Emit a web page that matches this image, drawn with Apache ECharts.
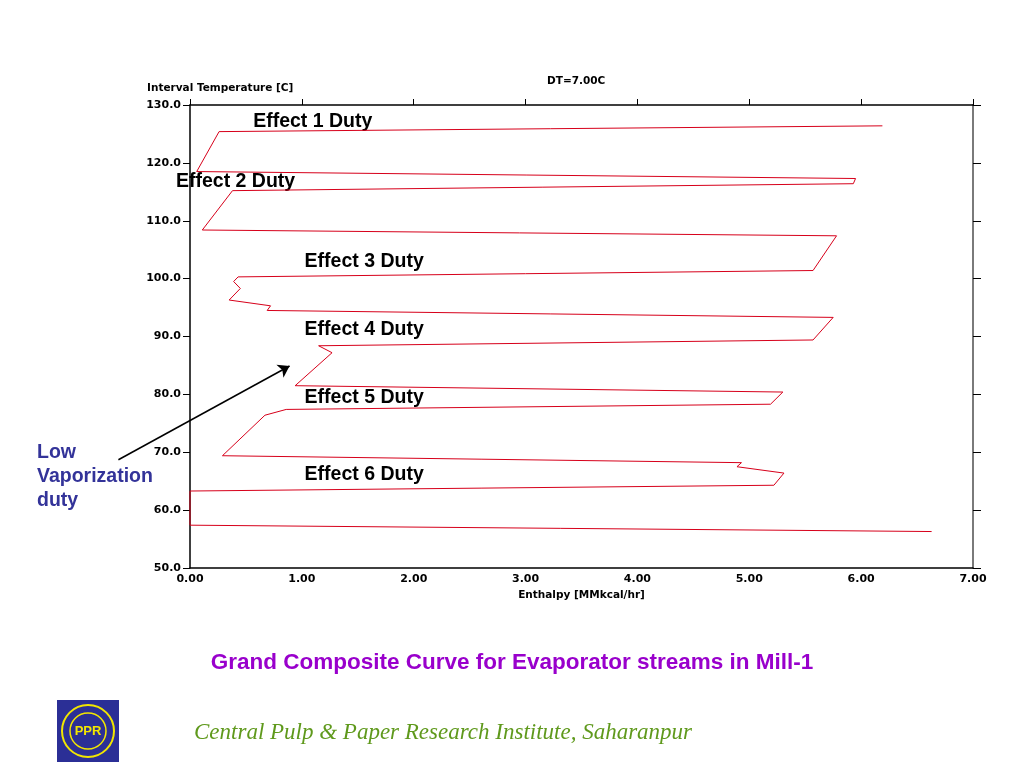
<!DOCTYPE html>
<html>
<head>
<meta charset="utf-8">
<title>Grand Composite Curve</title>
<script src="https://cdn.jsdelivr.net/npm/echarts@6/dist/echarts.min.js"></script>
<style>
	html, body { margin: 0; padding: 0; background: #fff; }
	#chart { width: 1024px; height: 768px; }
</style>
</head>
<body>
<div id="chart"></div>
<script>
// grand composite curve, points in drawing order (enthalpy MMkcal/hr, interval temperature C)
var enthalpy = [6.19, 0.26, 0.06, 5.95, 5.93, 0.38, 0.11, 5.78, 5.57, 0.43, 0.39, 0.45, 0.35, 0.72, 0.69, 5.75,
	5.57, 1.15, 1.27, 0.94, 5.30, 5.19, 0.86, 0.67, 0.29, 4.93, 4.89, 5.31, 5.22, 0.00, 0.00, 6.63];
var temperature = [126.4, 125.4, 118.5, 117.3, 116.4, 115.2, 108.4, 107.4, 101.4, 100.3, 99.5, 98.3, 96.3, 95.3, 94.5, 93.3,
	89.4, 88.4, 87.2, 81.5, 80.4, 78.3, 77.4, 76.4, 69.4, 68.2, 67.5, 66.4, 64.3, 63.3, 57.4, 56.3];

// effect duty labels
var dutyLabels = ['Effect 1 Duty', 'Effect 2 Duty', 'Effect 3 Duty', 'Effect 4 Duty', 'Effect 5 Duty', 'Effect 6 Duty'];
var dutyX = [0.56, -0.13, 1.02, 1.02, 1.02, 1.02];
var dutyY = [127.1, 116.8, 102.9, 91.2, 79.4, 66.1];

// arrow for low vaporization duty
var arrowFrom = [-0.64, 68.7];
var arrowTo = [0.89, 84.9];

function init() {
	renderChart();
}

function renderChart() {
	var curve = [];
	for(var i = 0; i < enthalpy.length; i++) {
		curve.push([enthalpy[i], temperature[i]]);
	}
	var duty = [];
	for(var j = 0; j < dutyLabels.length; j++) {
		duty.push({
			value: [dutyX[j], dutyY[j]],
			name: dutyLabels[j]
		});
	}
	var tickFont = {
		fontFamily: 'DejaVu Sans',
		fontWeight: 'bold',
		fontSize: 11,
		color: '#000'
	};
	var option = {
		animation: false,
		backgroundColor: '#fff',
		title: [{
			text: 'Grand Composite Curve for Evaporator streams in Mill-1',
			left: 'center',
			top: 646,
			textStyle: {
				fontFamily: 'Liberation Sans',
				fontWeight: 'bold',
				fontSize: 22.5,
				color: '#9900cc'
			}
		}, {
			text: 'DT=7.00C',
			left: 542,
			top: 71,
			textStyle: {
				fontFamily: 'DejaVu Sans',
				fontWeight: 'bold',
				fontSize: 10.5,
				color: '#000'
			}
		}],
		grid: {
			left: 190,
			right: 51,
			top: 105,
			bottom: 200
		},
		xAxis: [{
			type: 'value',
			min: 0,
			max: 7,
			interval: 1,
			position: 'bottom',
			name: 'Enthalpy [MMkcal/hr]',
			nameLocation: 'middle',
			nameGap: 18,
			nameTextStyle: {
				fontFamily: 'DejaVu Sans',
				fontWeight: 'bold',
				fontSize: 10.5,
				color: '#000'
			},
			axisLine: {
				show: true,
				onZero: false,
				lineStyle: { color: '#000', width: 1.5 }
			},
			axisTick: { show: false },
			axisLabel: {
				margin: 6,
				fontFamily: tickFont.fontFamily,
				fontWeight: tickFont.fontWeight,
				fontSize: tickFont.fontSize,
				color: tickFont.color,
				formatter: function(v) {
					return v.toFixed(2);
				}
			},
			splitLine: { show: false }
		}, {
			type: 'value',
			min: 0,
			max: 7,
			interval: 1,
			position: 'top',
			axisLine: {
				show: true,
				onZero: false,
				lineStyle: { color: '#000', width: 1.5 }
			},
			axisTick: {
				show: true,
				length: 6,
				lineStyle: { color: '#000' }
			},
			axisLabel: { show: false },
			splitLine: { show: false }
		}],
		yAxis: [{
			type: 'value',
			min: 50,
			max: 130,
			interval: 10,
			position: 'left',
			axisLine: {
				show: true,
				onZero: false,
				lineStyle: { color: '#000', width: 1.5 }
			},
			axisTick: {
				show: true,
				length: 7,
				lineStyle: { color: '#000' }
			},
			axisLabel: {
				margin: 9,
				fontFamily: tickFont.fontFamily,
				fontWeight: tickFont.fontWeight,
				fontSize: tickFont.fontSize,
				color: tickFont.color,
				formatter: function(v) {
					return v.toFixed(1);
				}
			},
			splitLine: { show: false }
		}, {
			type: 'value',
			min: 50,
			max: 130,
			interval: 10,
			position: 'right',
			axisLine: {
				show: true,
				onZero: false,
				lineStyle: { color: '#7a7a7a', width: 2 }
			},
			axisTick: {
				show: true,
				length: 8,
				lineStyle: { color: '#000' }
			},
			axisLabel: { show: false },
			splitLine: { show: false }
		}],
		series: [{
			name: 'GCC',
			type: 'line',
			data: curve,
			symbol: 'none',
			lineStyle: {
				color: '#d7001a',
				width: 1
			}
		}, {
			name: 'duty',
			type: 'scatter',
			data: duty,
			clip: false,
			symbolSize: 1,
			itemStyle: {
				color: 'rgba(0,0,0,0)',
				opacity: 1
			},
			label: {
				show: true,
				position: 'right',
				distance: 0,
				formatter: '{b}',
				fontFamily: 'Liberation Sans',
				fontWeight: 'bold',
				fontSize: 19.5,
				color: '#000',
				textBorderWidth: 0
			}
		}, {
			name: 'arrow',
			type: 'lines',
			coordinateSystem: 'cartesian2d',
			clip: false,
			symbol: ['none', 'arrow'],
			symbolSize: 11,
			lineStyle: {
				color: '#000',
				width: 1.5,
				opacity: 1
			},
			data: [{ coords: [arrowFrom, arrowTo] }]
		}],
		graphic: [{
			type: 'text',
			left: 147,
			top: 83,
			style: {
				text: 'Interval Temperature [C]',
				font: 'bold 10.5px "DejaVu Sans"',
				fill: '#000'
			}
		}, {
			type: 'text',
			left: 37,
			top: 441,
			style: {
				text: 'Low\nVaporization\nduty',
				font: 'bold 19.5px "Liberation Sans"',
				lineHeight: 24,
				fill: '#333399'
			}
		}, {
			type: 'text',
			left: 194,
			top: 721,
			style: {
				text: 'Central Pulp & Paper Research Institute, Saharanpur',
				font: 'italic 23px "Liberation Serif"',
				fill: '#5f991c'
			}
		}, {
			type: 'group',
			left: 57,
			top: 700,
			children: [{
				type: 'rect',
				shape: { x: 0, y: 0, width: 62, height: 62 },
				style: { fill: '#2b2f96' }
			}, {
				type: 'circle',
				shape: { cx: 31, cy: 31, r: 26 },
				style: { fill: 'none', stroke: '#f2e600', lineWidth: 2 }
			}, {
				type: 'circle',
				shape: { cx: 31, cy: 31, r: 18 },
				style: { fill: 'none', stroke: '#f2e600', lineWidth: 1.5 }
			}, {
				type: 'text',
				x: 31,
				y: 31,
				style: {
					text: 'PPR',
					font: 'bold 13px "Liberation Sans"',
					fill: '#f2e600',
					align: 'center',
					verticalAlign: 'middle'
				}
			}]
		}]
	};
	var chart = echarts.init(document.getElementById('chart'));
	chart.setOption(option);
}

init();
</script>
</body>
</html>
